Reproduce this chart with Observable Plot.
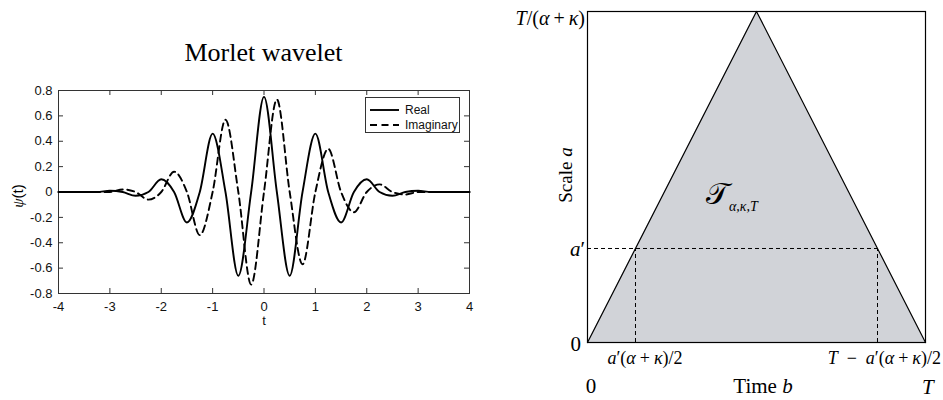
<!DOCTYPE html>
<html>
<head>
<meta charset="utf-8">
<script src="https://cdn.jsdelivr.net/npm/d3@7"></script>
<script src="https://cdn.jsdelivr.net/npm/@observablehq/plot@0.6"></script>
<style>
  body { margin: 0; background: #fff; }
  #wrap { position: relative; width: 943px; height: 400px; overflow: hidden; background: #fff; }
  .panel { position: absolute; top: 0; }
  .lbl { position: absolute; white-space: nowrap; line-height: 1; color: #000;
         font-family: "Liberation Serif", "DejaVu Serif", serif; }
  .legend { position: absolute; border: 1px solid #333; background: #fff;
            font-family: "Liberation Sans", Arial, sans-serif; font-size: 12px; color: #111; }
  .legend .row { display: flex; align-items: center; height: 15px; }
  .op { display: inline-block; }
</style>
</head>
<body>
<div id="wrap"></div>
<script>
// ---------------- Left panel data (Morlet wavelet) ----------------
const titleText = "Morlet wavelet";
const xTicks = [-4, -3, -2, -1, 0, 1, 2, 3, 4];
const yTicks = [-0.8, -0.6, -0.4, -0.2, 0, 0.2, 0.4, 0.6, 0.8];
const seriesNames = ["Real", "Imaginary"];

const realT = [-4, -3.5, -3.25, -3, -2.75, -2.5, -2.25, -2, -1.75, -1.5, -1.25, -1, -0.75, -0.5, -0.25,
               0, 0.25, 0.5, 0.75, 1, 1.25, 1.5, 1.75, 2, 2.25, 2.5, 2.75, 3, 3.25, 3.5, 4];
const realV = [0, 0, 0, 0.01, 0, -0.03, 0, 0.10, 0, -0.24, 0, 0.46, 0, -0.66, 0,
               0.75, 0, -0.66, 0, 0.46, 0, -0.24, 0, 0.10, 0, -0.03, 0, 0.01, 0, 0, 0];

const imagT = [-4, -3.25, -3, -2.75, -2.5, -2.25, -2, -1.75, -1.5, -1.25, -1, -0.75, -0.5, -0.25,
               0, 0.25, 0.5, 0.75, 1, 1.25, 1.5, 1.75, 2, 2.25, 2.5, 2.75, 3, 3.25, 4];
const imagV = [0, 0, 0, 0.02, 0, -0.06, 0, 0.16, 0, -0.34, 0, 0.57, 0, -0.73,
               0, 0.73, 0, -0.57, 0, 0.34, 0, -0.16, 0, 0.06, 0, -0.02, 0, 0, 0];

// ---------------- Right panel data (admissible region diagram) ----------------
const timeT = 1;          // T
const scaleMax = 1;       // T/(α+κ)
const aPrime = 0.284;     // a'
const triB = [0, 0.5, 1]; // time b of triangle vertices (fraction of T)
const triA = [0, 1, 0];   // scale a of triangle vertices (fraction of T/(α+κ))

// ---------------- Build tables ----------------
const real = realT.map((t, i) => ({t, v: realV[i]}));
const imag = imagT.map((t, i) => ({t, v: imagV[i]}));
const tri = triB.map((b, i) => ({b: b * timeT, a: triA[i] * scaleMax}));
const alphaKappa = timeT / scaleMax;
const bLeft = aPrime * alphaKappa / 2;
const bRight = timeT - bLeft;

const wrap = document.getElementById("wrap");

// ---------------- Left plot ----------------
const LW = 480, LH = 400, LML = 58, LMR = 11, LMT = 90, LMB = 107;
const innerW = LW - LML - LMR, innerH = LH - LMT - LMB;
const axisColor = "#333";

const left = Plot.plot({
  width: LW, height: LH,
  marginLeft: LML, marginRight: LMR, marginTop: LMT, marginBottom: LMB,
  x: {domain: [-4, 4]},
  y: {domain: [-0.8, 0.8]},
  style: {fontFamily: "'Liberation Sans', Arial, sans-serif", fontSize: "13px", color: "#111", background: "transparent"},
  marks: [
    Plot.frame({stroke: axisColor}),
    Plot.tickX(xTicks, {x: d => d, insetTop: innerH - 5, stroke: axisColor}),
    Plot.tickX(xTicks, {x: d => d, insetBottom: innerH - 5, stroke: axisColor}),
    Plot.tickY(yTicks, {y: d => d, insetRight: innerW - 5, stroke: axisColor}),
    Plot.tickY(yTicks, {y: d => d, insetLeft: innerW - 5, stroke: axisColor}),
    Plot.axisX({ticks: xTicks, tickSize: 0, tickPadding: 8, tickFormat: d => String(d),
                label: "t", labelAnchor: "center", labelOffset: 31, labelArrow: "none"}),
    Plot.axisY({ticks: yTicks, tickSize: 0, tickPadding: 6, tickFormat: d => String(d), label: null}),
    Plot.line(imag, {x: "t", y: "v", curve: "monotone-x", stroke: "#000", strokeWidth: 1.9, strokeDasharray: "7,4.5"}),
    Plot.line(real, {x: "t", y: "v", curve: "monotone-x", stroke: "#000", strokeWidth: 1.9})
  ]
});
left.classList.add("panel");
left.style.left = "0px";
wrap.appendChild(left);

// ---------------- Right plot ----------------
const RX = 480;
const right = Plot.plot({
  width: 463, height: 400,
  marginLeft: 107, marginRight: 18, marginTop: 11, marginBottom: 58,
  x: {domain: [0, timeT], axis: null},
  y: {domain: [0, scaleMax], axis: null},
  style: {background: "transparent"},
  marks: [
    Plot.areaY(tri, {x: "b", y: "a", fill: "#d1d3d8"}),
    Plot.ruleY([aPrime], {y: d => d, x1: 0, x2: bRight, stroke: "#000", strokeWidth: 1, strokeDasharray: "4,3"}),
    Plot.ruleX([bLeft, bRight], {x: d => d, y1: 0, y2: aPrime, stroke: "#000", strokeWidth: 1, strokeDasharray: "4,3"}),
    Plot.line(tri, {x: "b", y: "a", stroke: "#000", strokeWidth: 1.2}),
    Plot.frame({stroke: "#000", strokeWidth: 1.2})
  ]
});
right.classList.add("panel");
right.style.left = RX + "px";
wrap.appendChild(right);

// ---------------- Labels ----------------
function label(html, x, y, {anchor = "middle", size = 18, rotate = 0, family} = {}) {
  const d = document.createElement("div");
  d.className = "lbl";
  d.innerHTML = html;
  d.style.left = x + "px";
  d.style.top = y + "px";
  d.style.fontSize = size + "px";
  if (family) d.style.fontFamily = family;
  const tx = anchor === "middle" ? "-50%" : anchor === "end" ? "-100%" : "0";
  d.style.transform = `translate(${tx}, -50%)` + (rotate ? ` rotate(${rotate}deg)` : "");
  wrap.appendChild(d);
  return d;
}

const lx = left.scale("x").apply;
const ly = left.scale("y").apply;
label(titleText, lx(0), 53, {size: 26});
label(`<i style="font-family:'Liberation Serif',serif">ψ</i>(t)`, 18, ly(0) + 4, {rotate: -90, size: 15,
      family: "'Liberation Sans', Arial, sans-serif"});

// legend
const lg = document.createElement("div");
lg.className = "legend";
lg.style.left = "365px"; lg.style.top = "97px"; lg.style.width = "95px"; lg.style.height = "36px";
lg.style.paddingTop = "4px"; lg.style.boxSizing = "border-box";
const dashes = [null, "7,4.5"];
seriesNames.forEach((name, i) => {
  const row = document.createElement("div");
  row.className = "row";
  row.innerHTML = `<svg width="34" height="10" style="margin-left:4px;margin-right:1px"><line x1="0" x2="29" y1="5" y2="5" stroke="#000" stroke-width="1.9" ${dashes[i] ? `stroke-dasharray="${dashes[i]}"` : ""}/></svg><span>${name}</span>`;
  lg.appendChild(row);
});
wrap.appendChild(lg);

// right panel labels
const sx = v => RX + right.scale("x").apply(v);
const sy = v => right.scale("y").apply(v);
const it = s => `<i>${s}</i>`;
const op = (s, m) => `<span class="op" style="margin:0 ${m}px">${s}</span>`;
label(`${it("T")}/(${it("α")}${op("+", 4)}${it("κ")})`, sx(0) - 2, sy(scaleMax) + 7, {anchor: "end", size: 20});
label(`${it("a")}′`, sx(0) - 2, sy(aPrime) + 1, {anchor: "end", size: 21});
label("0", sx(0) - 6, sy(0) + 2, {anchor: "end", size: 21});
label(`Scale ${it("a")}`, sx(0) - 22, sy(0.5) - 2, {rotate: -90, size: 19});
label(`${it("a")}′(${it("α")}${op("+", 4)}${it("κ")})/2`, sx(bLeft) + 10, sy(0) + 16, {size: 18});
label(`${it("T")}${op("−", 9)}${it("a")}′(${it("α")}${op("+", 4)}${it("κ")})/2`, sx(timeT) + 16, sy(0) + 16, {anchor: "end", size: 18});
label("0", sx(0) + 4, sy(0) + 44, {size: 21});
label(`Time ${it("b")}`, sx(0.5) + 7, sy(0) + 44, {size: 21});
label(it("T"), sx(timeT) - 3, sy(0) + 45, {anchor: "start", size: 21});
label(`𝒯<sub style="font-size:14px;font-style:italic">α,κ,T</sub>`, sx(0.5) - 50, sy(0.44), {anchor: "start", size: 30});
</script>
</body>
</html>
